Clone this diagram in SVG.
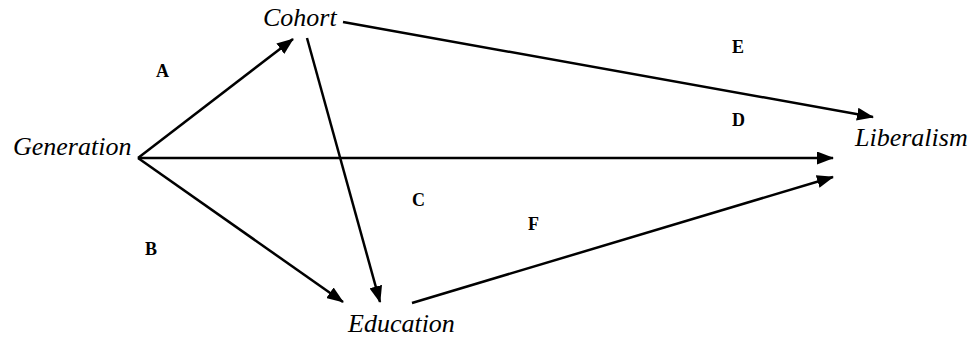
<svg xmlns="http://www.w3.org/2000/svg" width="972" height="338" viewBox="0 0 972 338">
<style>
.node{font-style:italic;font-size:26px;fill:#000}
.lbl{font-weight:bold;font-size:18px;fill:#000}
.conn{stroke:#000;stroke-width:2.5;fill:none;marker-end:url(#ah)}
</style>
<defs>
<marker id="ah" markerUnits="userSpaceOnUse" markerWidth="17" markerHeight="13" refX="16" refY="6.5" orient="auto">
<path d="M0,0 L17,6.5 L0,13 z" fill="#000"/>
</marker>
</defs>
<rect width="972" height="338" fill="#fff"/>
<g id="connectors">
<line class="conn" x1="138" y1="158" x2="293" y2="39"/>
<line class="conn" x1="138" y1="158" x2="343" y2="302"/>
<line class="conn" x1="138" y1="158" x2="833" y2="158"/>
<line class="conn" x1="307" y1="38" x2="380" y2="302"/>
<line class="conn" x1="343" y1="22" x2="873" y2="117"/>
<line class="conn" x1="412" y1="303" x2="833" y2="177"/>
</g>
<g font-family="Liberation Serif, Times New Roman, serif">
<g id="generation"><text class="node" x="13" y="155">Generation</text></g>
<g id="cohort"><text class="node" x="263" y="26">Cohort</text></g>
<g id="education"><text class="node" x="348" y="332">Education</text></g>
<g id="liberalism"><text class="node" x="855" y="146">Liberalism</text></g>
<g id="labels">
<text class="lbl" x="156" y="77">A</text>
<text class="lbl" x="145" y="255">B</text>
<text class="lbl" x="412" y="206">C</text>
<text class="lbl" x="732" y="126">D</text>
<text class="lbl" x="732" y="53">E</text>
<text class="lbl" x="528" y="230">F</text>
</g>
</g>
</svg>
